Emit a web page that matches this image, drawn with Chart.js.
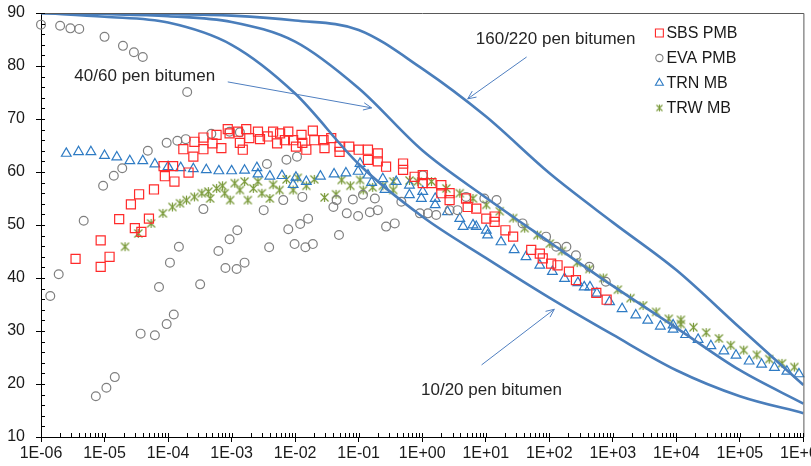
<!DOCTYPE html>
<html><head><meta charset="utf-8">
<script src="https://cdn.jsdelivr.net/npm/chart.js@4/dist/chart.umd.min.js"></script>
<style>html,body{margin:0;padding:0;background:#fff}#wrap{width:811px;height:466px}</style>
</head><body><div id="wrap"><canvas id="c" width="811" height="466"></canvas></div>
<script>
// ---------- data ----------
const decades = [1e-6,1e-5,1e-4,1e-3,1e-2,1e-1,1e0,1e1,1e2,1e3,1e4,1e5,1e6];
const xTickLabels = ['1E-06','1E-05','1E-04','1E-03','1E-02','1E-01','1E+00','1E+01','1E+02','1E+03','1E+04','1E+05','1E+06'];
const yTickValues = [10,20,30,40,50,60,70,80,90];

const pen160_220 = [90, 89.9, 89.8, 89.5, 88.6, 86.8, 79.5, 70.5, 59.8, 50.5, 41.5, 30.6, 19.8];
const pen40_60   = [90, 89.8, 89.4, 88.3, 84.6, 75.8, 64.1, 55.2, 46.8, 38.5, 30.6, 22.6, 16.3];
const pen10_20   = [90, 89.3, 88.2, 84.0, 74.8, 61.5, 51.6, 43.8, 36.3, 29.3, 22.6, 17.7, 14.5];

const sbsPMB = [[3.5e-6,43.6],[8.7e-6,47.1],[1.2e-5,44.0],[8.7e-6,42.1],[1.7e-5,51.1],[2.6e-5,53.9],[3.5e-5,55.8],[3.0e-5,49.4],[3.8e-5,48.7],[5.0e-5,51.2],
[6.0e-5,56.7],[8.9e-5,59.2],[8.5e-5,61.1],[1.2e-4,61.1],[1.26e-4,58.2],[1.74e-4,64.3],[2.1e-4,59.9],[2.5e-4,62.9],[2.6e-4,65.7],[3.6e-4,66.5],
[3.6e-4,64.3],[5.0e-4,65.4],[5.8e-4,67.0],[6.9e-4,64.5],[8.7e-4,68.1],[9.3e-4,67.3],[1.26e-3,67.6],[1.35e-3,65.5],[1.5e-3,64.2],[1.7e-3,68.1],
[1.9e-3,66.4],[2.6e-3,67.6],[2.8e-3,66.2],[3.7e-3,66.7],[4.5e-3,67.6],[5.2e-3,65.4],[5.8e-3,67.3],[6.9e-3,66.0],[7.8e-3,67.6],[9.3e-3,66.0],
[1.03e-2,64.8],[1.26e-2,67.0],[1.3e-2,65.5],[1.5e-2,64.2],[1.9e-2,67.8],[2.0e-2,66.0],[2.8e-2,66.0],[2.9e-2,64.5],[3.7e-2,66.4],[5.0e-2,64.8],
[5.0e-2,63.8],[7.1e-2,64.8],[0.10,64.2],[0.14,64.2],[0.14,62.3],[0.20,63.5],[0.20,62.0],[0.27,61.0],[0.50,61.6],[0.50,60.4],
[0.76,59.1],[1.02,59.4],[1.02,57.9],[1.4,57.9],[2.0,57.5],[2.0,56.0],[2.7,56.0],[2.7,54.7],[4.9,55.0],[5.2,53.4],
[7.1,53.1],[10.2,51.2],[13.8,51.6],[13.8,50.6],[20.4,49.0],[27,47.8],[52,45.3],[71,44.6],[79,43.7],[107,42.7],
[135,42.4],[204,41.2],[263,39.6],[550,37.2],[800,35.9]];

const evaPMB = [[1.0e-6,87.8],[2.0e-6,87.6],[2.9e-6,87.1],[4.0e-6,87.0],[1.0e-5,85.5],[1.95e-5,83.8],[2.9e-5,82.6],[4.0e-5,81.7],[2.0e-4,75.1],
[1.4e-6,36.6],[1.9e-6,40.7],[4.7e-6,50.8],[7.3e-6,17.7],[1.07e-5,19.3],[1.45e-5,21.3],[9.5e-6,57.4],[1.4e-5,59.3],[1.9e-5,60.7],
[3.7e-5,29.5],[6.2e-5,29.2],[9.5e-5,31.3],[1.23e-4,33.1],[7.2e-5,38.3],[1.07e-4,42.9],[1.48e-4,45.9],[4.8e-5,64.0],[9.5e-5,65.5],
[1.4e-4,65.9],[1.9e-4,66.2],[3.2e-4,38.8],[3.6e-4,53.0],[4.8e-4,67.2],[6.2e-4,45.1],[8.0e-4,41.9],[9.3e-4,47.3],[1.2e-3,41.7],
[1.6e-3,42.9],[1.23e-3,49.0],[9.3e-4,67.6],[1.35e-3,67.5],[3.9e-3,45.8],[3.2e-3,52.8],[3.6e-3,61.5],[7.3e-3,62.3],[1.07e-2,62.9],
[9.8e-3,46.4],[1.45e-2,45.8],[1.9e-2,46.4],[4.9e-2,48.1],[7.8e-3,49.2],[1.2e-2,50.2],[1.6e-2,51.2],[4.0e-2,53.4],[6.5e-3,54.7],
[1.3e-2,55.3],[4.5e-2,54.7],[8.1e-2,54.8],[0.117,55.7],[0.18,55.0],[9.8e-2,51.7],[0.15,52.4],[0.20,52.8],[0.27,49.7],[0.37,50.3],
[0.47,54.4],[0.92,52.2],[1.23,52.2],[1.66,51.9],[1.02,59.4],[2.7,52.8],[3.6,52.8],[4.9,55.3],[9.5,55.0],[14.8,54.7],[38,50.3],
[89,47.8],[129,45.9],[186,45.9],[263,44.3],[427,42.1],[776,39.3],[6.5e-2,52.2]];

const trnMB = [[2.5e-6,63.5],[3.9e-6,63.8],[6.1e-6,63.8],[1.0e-5,63.1],[1.56e-5,62.8],[2.5e-5,62.1],[4.0e-5,62.1],[6.2e-5,61.5],[1.0e-4,61.0],
[1.58e-4,60.8],[2.5e-4,60.6],[4.0e-4,60.4],[6.3e-4,60.2],[1.0e-3,60.2],[1.6e-3,60.3],[2.5e-3,60.8],[2.6e-3,59.6],[4.0e-3,59.2],[6.2e-3,59.3],
[9.3e-3,57.6],[1.03e-2,59.0],[1.5e-2,58.2],[2.5e-2,59.2],[4.1e-2,59.6],[6.3e-2,59.8],[9.8e-2,60.1],[0.105,61.6],[0.14,59.4],[0.16,58.0],
[0.24,58.7],[0.26,56.7],[0.39,58.2],[0.63,57.5],[0.63,55.7],[1.02,56.3],[0.97,55.0],[1.6,55.0],[1.6,53.8],[2.5,52.5],[3.9,51.2],
[4.4,49.7],[6.3,50.0],[7.1,49.7],[10.2,49.0],[10.7,48.1],[17.4,46.8],[28,45.3],[43,44.0],[71,42.4],[112,41.2],[174,39.9],[282,39.1],
[355,38.3],[437,38.3],[562,37.1],[890,35.5],[1400,34.2],[2300,33.0],[3550,32.0],[5600,30.9],[8900,30.3],[8900,31.1],[14000,29.3],
[22000,28.4],[35000,27.2],[56000,26.2],[87000,25.4],[1.4e5,24.3],[2.2e5,23.7],[3.5e5,23.1],[5.5e5,22.4],[8.5e5,21.9]];

const trwMB = [[2.1e-5,45.9],[3.4e-5,48.4],[5.4e-5,50.3],[8.3e-5,52.2],[1.17e-4,53.4],[1.54e-4,54.1],[1.95e-4,54.7],[2.6e-4,55.3],[3.4e-4,56.0],
[4.3e-4,56.3],[4.6e-4,55.0],[5.8e-4,56.9],[7.2e-4,57.4],[7.8e-4,56.0],[9.5e-4,54.7],[1.12e-3,57.9],[1.35e-3,56.6],[1.6e-3,58.2],[1.8e-3,54.7],
[2.2e-3,56.9],[2.6e-3,58.2],[3.0e-3,56.0],[4.0e-3,55.0],[4.5e-3,57.6],[5.7e-3,56.6],[7.3e-3,58.6],[9.3e-3,56.6],[1.1e-2,58.9],[1.5e-2,57.4],
[2.0e-2,58.6],[2.9e-2,55.2],[4.4e-2,55.8],[5.4e-2,58.5],[7.4e-2,57.4],[0.105,58.5],[0.118,56.6],[0.166,57.1],[0.24,57.4],[0.35,58.2],
[0.35,56.6],[0.63,58.4],[0.85,58.2],[1.4,58.2],[2.4,56.9],[3.9,56.0],[6.3,55.0],[10.2,53.8],[16.6,52.6],[27,51.3],[41,49.4],[65,48.1],
[102,46.5],[158,45.1],[275,42.9],[427,41.7],[708,40.0],[1200,37.8],[1900,36.2],[3000,34.8],[4800,33.6],[7600,32.3],[11800,32.1],
[11800,31.3],[18600,30.7],[29500,29.7],[46800,28.6],[72000,27.3],[115000,26.4],[185000,25.5],[290000,24.7],[460000,23.9],[720000,23.2]];

const seriesNames = ['SBS PMB','EVA PMB','TRN MB','TRW MB'];
const lineLabels = ['160/220 pen bitumen','40/60 pen bitumen','10/20 pen bitumen'];

// ---------- styling ----------
const FONT = "'Liberation Sans', Arial, sans-serif";
const LINE_COLOR = '#4A7EBB';
const C_SBS = '#FF2A2A', C_EVA = '#7F7F7F', C_TRN = '#2E7BC4', C_TRW = '#7A9A3A';

function starCanvas(size, color, lw) {
  const cv = document.createElement('canvas');
  cv.width = size; cv.height = size;
  const g = cv.getContext('2d');
  g.strokeStyle = color; g.lineWidth = lw;
  const a = 1.5, b = size - 1.5, m = size / 2;
  g.beginPath();
  g.moveTo(a, a); g.lineTo(b, b);
  g.moveTo(b, a); g.lineTo(a, b);
  g.moveTo(m, a - 0.5); g.lineTo(m, b + 0.5);
  g.stroke();
  return cv;
}
const starImg = starCanvas(11, C_TRW, 1.2);
const starLegend = starCanvas(9, C_TRW, 1.1);

const toXY = arr => arr.map(p => ({x: p[0], y: p[1]}));
const lineXY = vals => vals.map((v, i) => ({x: decades[i], y: v}));

const lineDs = (vals) => ({data: lineXY(vals), showLine: true, pointRadius: 0, borderColor: LINE_COLOR,
  borderWidth: 2.6, cubicInterpolationMode: 'monotone', fill: false});
const scatDs = (arr, style, r, color) => ({data: toXY(arr), showLine: false, pointStyle: style, pointRadius: r,
  borderColor: color, backgroundColor: 'rgba(0,0,0,0)', pointBorderWidth: 1.2, borderWidth: 1.2, clip: false});

// ---------- plugins ----------
const framePlugin = {
  id: 'frame',
  afterDatasetsDraw(chart) {
    const {ctx, chartArea: a, scales: {x, y}} = chart;
    ctx.save();
    ctx.strokeStyle = '#595959'; ctx.lineWidth = 1;
    ctx.beginPath();
    ctx.moveTo(a.left, a.top + 0.5); ctx.lineTo(a.right + 0.5, a.top + 0.5); ctx.lineTo(a.right + 0.5, a.bottom);
    ctx.stroke();
    ctx.strokeStyle = '#000';
    ctx.beginPath();
    for (let d = 0; d < decades.length; d++) {
      const pm = Math.round(x.getPixelForValue(decades[d])) + 0.5;
      ctx.moveTo(pm, a.bottom); ctx.lineTo(pm, a.bottom - 4);
      if (d === decades.length - 1) break;
      for (let m = 2; m <= 9; m++) {
        const px = Math.round(x.getPixelForValue(decades[d] * m)) + 0.5;
        ctx.moveTo(px, a.bottom); ctx.lineTo(px, a.bottom - 4);
      }
    }
    for (let v = 10; v <= 90; v += 2) {
      const py = Math.round(y.getPixelForValue(v)) + 0.5;
      ctx.moveTo(a.left, py); ctx.lineTo(a.left + 4, py);
    }
    ctx.stroke();
    ctx.restore();
  }
};

function arrow(ctx, x1, y1, x2, y2) {
  ctx.beginPath();
  ctx.moveTo(x1, y1); ctx.lineTo(x2, y2);
  const ang = Math.atan2(y2 - y1, x2 - x1), L = 9, w = 0.42;
  ctx.moveTo(x2 - L * Math.cos(ang - w), y2 - L * Math.sin(ang - w));
  ctx.lineTo(x2, y2);
  ctx.lineTo(x2 - L * Math.cos(ang + w), y2 - L * Math.sin(ang + w));
  ctx.stroke();
}

const annotations = [
  {text: lineLabels[0], at: [126, 85.0], from: [44, 81.7], to: [5.2, 73.8]},
  {text: lineLabels[1], at: [4.3e-5, 78.1], from: [8.7e-4, 77.0], to: [0.16, 72.1]},
  {text: lineLabels[2], at: [12.3, 18.8], from: [8.6, 23.6], to: [120, 34.1]}
];

const annotPlugin = {
  id: 'annot',
  afterDraw(chart) {
    const {ctx, scales: {x, y}} = chart;
    ctx.save();
    ctx.font = '17px ' + FONT;
    ctx.fillStyle = '#262626';
    ctx.textAlign = 'center'; ctx.textBaseline = 'middle';
    ctx.strokeStyle = '#4F7FC0'; ctx.lineWidth = 1;
    annotations.forEach(an => {
      ctx.fillText(an.text, x.getPixelForValue(an.at[0]), y.getPixelForValue(an.at[1]));
      arrow(ctx, x.getPixelForValue(an.from[0]), y.getPixelForValue(an.from[1]),
                 x.getPixelForValue(an.to[0]), y.getPixelForValue(an.to[1]));
    });
    ctx.restore();
  }
};

const legendPlugin = {
  id: 'customLegend',
  afterDraw(chart) {
    const {ctx, chartArea: a} = chart;
    const mx = a.right - 144, tx = a.right - 137, y0 = a.top + 20, dy = 25;
    ctx.save();
    ctx.font = '16px ' + FONT;
    ctx.textAlign = 'left'; ctx.textBaseline = 'middle';
    const styles = [['rect', 5.6, C_SBS], ['circle', 3.6, C_EVA], ['triangle', 4.6, C_TRN], [starLegend, 4, C_TRW]];
    styles.forEach((s, i) => {
      const yy = y0 + i * dy;
      ctx.strokeStyle = s[2]; ctx.lineWidth = 1.1; ctx.fillStyle = 'rgba(0,0,0,0)';
      Chart.helpers.drawPoint(ctx, {pointStyle: s[0], radius: s[1], rotation: 0, borderWidth: 1.1}, mx, yy);
      ctx.fillStyle = '#1a1a1a';
      ctx.fillText(seriesNames[i], tx, yy + 1);
    });
    ctx.restore();
  }
};

// ---------- chart ----------
new Chart(document.getElementById('c'), {
  type: 'scatter',
  data: {
    datasets: [
      lineDs(pen160_220), lineDs(pen40_60), lineDs(pen10_20),
      scatDs(sbsPMB, 'rect', 6.4, C_SBS),
      scatDs(evaPMB, 'circle', 4.4, C_EVA),
      scatDs(trnMB, 'triangle', 5.6, C_TRN),
      scatDs(trwMB, starImg, 5.5, C_TRW)
    ]
  },
  options: {
    responsive: false, animation: false, devicePixelRatio: 1,
    layout: {padding: {left: 0, right: 6, top: 13, bottom: 0}},
    plugins: {legend: {display: false}, tooltip: {enabled: false}},
    scales: {
      x: {
        type: 'logarithmic', min: decades[0], max: decades[decades.length - 1],
        afterBuildTicks: s => { s.ticks = decades.map(v => ({value: v, major: true})); },
        ticks: {callback: (v, i) => xTickLabels[i], autoSkip: false, maxRotation: 0, minRotation: 0,
                font: {family: FONT, size: 16}, color: '#1a1a1a', padding: 2},
        grid: {drawOnChartArea: false, drawTicks: true, tickLength: 5, color: '#000'},
        border: {color: '#000', width: 1},
        afterFit: s => { s.height = 29; s.paddingLeft = 0; s.paddingRight = 0; }
      },
      y: {
        min: 10, max: 90,
        afterBuildTicks: s => { s.ticks = yTickValues.map(v => ({value: v})); },
        ticks: {font: {family: FONT, size: 16}, color: '#1a1a1a', padding: 11},
        grid: {drawOnChartArea: false, drawTicks: true, tickLength: 5, color: '#000'},
        border: {color: '#000', width: 1},
        afterFit: s => { s.width = 41; s.paddingTop = 0; s.paddingBottom = 0; }
      }
    }
  },
  plugins: [framePlugin, annotPlugin, legendPlugin]
});
</script>
</body></html>
